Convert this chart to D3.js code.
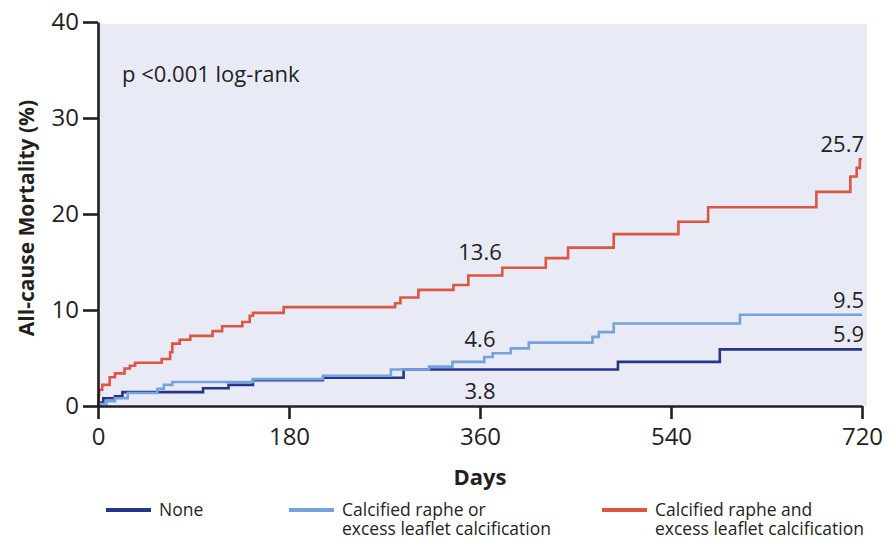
<!DOCTYPE html>
<html>
<head>
<meta charset="utf-8">
<script src="https://cdn.jsdelivr.net/npm/d3@7/dist/d3.min.js"></script>
<style>
  html, body { margin: 0; padding: 0; background: #ffffff; }
  svg { display: block; }
  text { font-family: "Open Sans", "Noto Sans", sans-serif; fill: #231f20; }
</style>
</head>
<body>
<svg id="chart" width="890" height="541"></svg>
<script>
// Kaplan-Meier cumulative all-cause mortality (%) by day, one step per event
const xTicks = [0, 180, 360, 540, 720];
const yTicks = [0, 10, 20, 30, 40];

const groupNames = ["None", "Calcified raphe or\nexcess leaflet calcification", "Calcified raphe and\nexcess leaflet calcification"];
const groupColors = ["#26358a", "#74a2dd", "#de5540"];

const noneDays = [0, 0.5, 5, 16, 23, 99, 123, 146, 212, 288, 490, 586, 720];
const noneRisk = [0, 0.35, 0.8, 1.0, 1.45, 1.85, 2.2, 2.7, 2.95, 3.8, 4.6, 5.9, 5.9];

const eitherDays = [0, 3, 8, 16, 28, 56, 62, 70, 146, 212, 276, 312, 334, 364, 372, 389, 406, 466, 472, 486, 605, 720];
const eitherRisk = [0, 0.2, 0.5, 0.8, 1.35, 1.8, 2.2, 2.5, 2.8, 3.15, 3.8, 4.1, 4.6, 5.1, 5.5, 6.0, 6.6, 7.2, 7.7, 8.6, 9.5, 9.5];

const bothDays = [0, 0.5, 1, 4, 11, 16, 25, 30, 35, 60, 68, 70, 77, 87, 108, 117, 136, 143, 146, 175, 280, 285, 302, 335, 349, 381, 422, 443, 486, 547, 575, 677, 709, 715, 718, 720];
const bothRisk = [0, 1.2, 1.7, 2.2, 3.0, 3.4, 3.9, 4.2, 4.5, 4.9, 5.6, 6.5, 6.9, 7.3, 7.8, 8.3, 8.75, 9.4, 9.7, 10.3, 10.7, 11.3, 12.1, 12.6, 13.6, 14.4, 15.4, 16.5, 17.9, 19.2, 20.7, 22.3, 23.9, 24.8, 25.7, 25.7];

// value annotations: [group index, day, value, placement]
const annoGroup = [2, 1, 0, 2, 1, 0];
const annoDay = [360, 360, 360, 720, 720, 720];
const annoValue = [13.6, 4.6, 3.8, 25.7, 9.5, 5.9];
const annoPlace = ["above", "above", "below", "end", "end", "end"];

const svg = d3.select("#chart");

const x = d3.scaleLinear().domain([0, 720]).range([98, 862]);
const y = d3.scaleLinear().domain([0, 40]).range([406, 22]);

// shaded plotting panel
svg.append("rect")
  .attr("x", x(0)).attr("y", y(39.8))
  .attr("width", 867 - x(0)).attr("height", y(0) - y(39.8))
  .attr("fill", "#e8ebf6");

// step curves
const series = [
  { days: noneDays, risk: noneRisk },
  { days: eitherDays, risk: eitherRisk },
  { days: bothDays, risk: bothRisk }
];
const line = d3.line()
  .x(d => x(d[0]))
  .y(d => y(d[1]))
  .curve(d3.curveStepAfter);

series.forEach((s, i) => {
  const pts = s.days.map((d, j) => [d, s.risk[j]]);
  svg.append("path")
    .datum(pts)
    .attr("fill", "none")
    .attr("stroke", groupColors[i])
    .attr("stroke-width", 2.6)
    .attr("stroke-linejoin", "miter")
    .attr("d", line);
});

// axes
const xAxis = d3.axisBottom(x).tickValues(xTicks).tickSize(13).tickSizeOuter(0).tickPadding(9);
const yAxis = d3.axisLeft(y).tickValues(yTicks).tickSize(15).tickSizeOuter(0).tickPadding(4);

const gx = svg.append("g").attr("transform", `translate(0,${y(0)})`).call(xAxis);
const gy = svg.append("g").attr("transform", `translate(${x(0)},0)`).call(yAxis);

[gx, gy].forEach(g => {
  g.select(".domain").attr("stroke", "#231f20").attr("stroke-width", 2.6);
  g.selectAll(".tick line").attr("stroke", "#231f20").attr("stroke-width", 2.6);
  g.selectAll(".tick text")
    .attr("font-size", 24)
    .attr("font-family", "'Open Sans', sans-serif")
    .attr("fill", "#231f20");
});

// axis titles
svg.append("text")
  .attr("x", 480).attr("y", 485)
  .attr("text-anchor", "middle")
  .attr("font-size", 22).attr("font-weight", 700)
  .text("Days");

svg.append("text")
  .attr("transform", "translate(34,218) rotate(-90)")
  .attr("text-anchor", "middle")
  .attr("font-size", 21).attr("font-weight", 700)
  .text("All-cause Mortality (%)");

// test statistic
svg.append("text")
  .attr("x", 122).attr("y", 82)
  .attr("font-size", 22)
  .text("p <0.001 log-rank");

// value annotations
annoValue.forEach((v, k) => {
  const place = annoPlace[k];
  const t = svg.append("text").attr("font-size", 22).text(v.toFixed(1));
  if (place === "above") {
    t.attr("x", x(annoDay[k])).attr("y", y(v) - 15).attr("text-anchor", "middle");
  } else if (place === "below") {
    t.attr("x", x(annoDay[k])).attr("y", y(v) + 29).attr("text-anchor", "middle");
  } else {
    t.attr("x", x(annoDay[k]) + 2).attr("y", y(v) - 7).attr("text-anchor", "end");
  }
});

// legend
const legendX = [106, 289, 602];
groupNames.forEach((name, i) => {
  const g = svg.append("g").attr("transform", `translate(${legendX[i]},510)`);
  g.append("line")
    .attr("x1", 0).attr("x2", 45).attr("y1", 0).attr("y2", 0)
    .attr("stroke", groupColors[i]).attr("stroke-width", 4);
  const t = g.append("text").attr("x", 53).attr("y", 6).attr("font-size", 17.5);
  name.split("\n").forEach((part, j) => {
    t.append("tspan").attr("x", 53).attr("dy", j === 0 ? 0 : 19).text(part);
  });
});
</script>
</body>
</html>
